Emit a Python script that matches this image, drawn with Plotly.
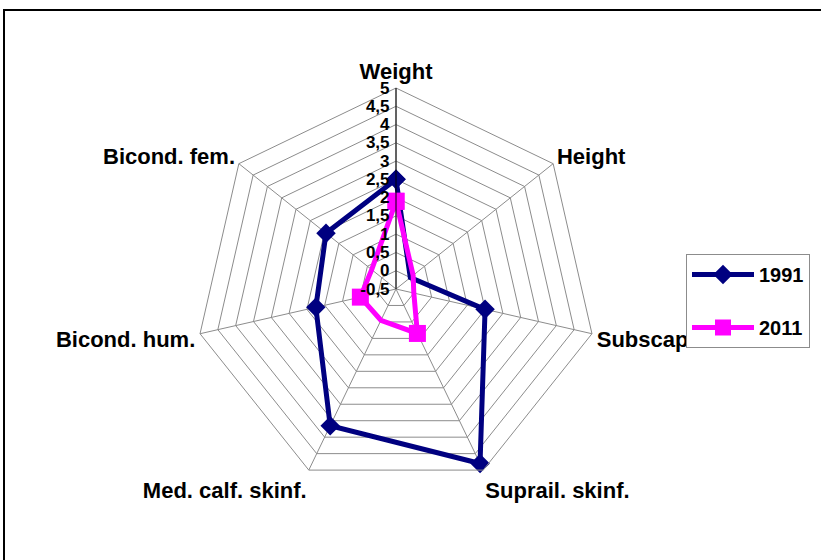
import plotly.graph_objects as go

categories = ["Weight", "Height", "Subscap. skinf.", "Suprail. skinf.",
              "Med. calf. skinf.", "Bicond. hum.", "Bicond. fem."]
values_1991 = [2.5, 0.0, 2.0, 4.8, 3.65, 1.75, 1.95]
values_2011 = [1.9, 0.1, 0.0, 0.85, 0.45, 0.5, 0.35]
tick_vals = [-0.5, 0, 0.5, 1, 1.5, 2, 2.5, 3, 3.5, 4, 4.5, 5]
tick_text = ["-0,5", "0", "0,5", "1", "1,5", "2", "2,5", "3", "3,5", "4", "4,5", "5"]

W, H = 821, 560
cx, cy, R = 396, 289, 201

fig = go.Figure()
fig.add_trace(go.Scatterpolar(
    r=values_1991 + values_1991[:1], theta=categories + categories[:1],
    mode="lines+markers", name="1991", legendgroup="a",
    line=dict(color="#000080", width=5),
    marker=dict(symbol="diamond", size=15, color="#000080"),
))
fig.add_trace(go.Scatterpolar(
    r=values_2011 + values_2011[:1], theta=categories + categories[:1],
    mode="lines+markers", name="2011", legendgroup="b",
    line=dict(color="#FF00FF", width=5),
    marker=dict(symbol="square", size=17, color="#FF00FF"),
))

fig.update_layout(
    width=W, height=H,
    margin=dict(l=0, r=0, t=0, b=0),
    paper_bgcolor="white", plot_bgcolor="white",
    font=dict(family="Liberation Sans, Arial, sans-serif", color="black"),
    polar=dict(
        domain=dict(x=[(cx - R) / W, (cx + R) / W], y=[1 - (cy + R) / H, 1 - (cy - R) / H]),
        bgcolor="white",
        gridshape="linear",
        radialaxis=dict(
            range=[-0.5, 5], tickvals=tick_vals, ticktext=tick_text,
            angle=90, tickangle=90, showline=True, linecolor="black", linewidth=1,
            gridcolor="#8c8c8c", gridwidth=1, ticks="",
            tickfont=dict(size=17, family="Liberation Sans, Arial, sans-serif", weight="bold"),
            side="counterclockwise",
        ),
        angularaxis=dict(
            rotation=90, direction="clockwise",
            linecolor="#8c8c8c", gridcolor="#8c8c8c", linewidth=1, ticks="",
            tickfont=dict(size=22, family="Liberation Sans, Arial, sans-serif", weight="bold"),
        ),
    ),
    legend=dict(
        x=686 / W, y=1 - 254 / H, xanchor="left", yanchor="top",
        bgcolor="white", bordercolor="#8c8c8c", borderwidth=1,
        font=dict(size=20, family="Liberation Sans, Arial, sans-serif", weight="bold"),
        traceorder="grouped", tracegroupgap=24, itemwidth=62,
    ),
    shapes=[dict(type="rect", xref="paper", yref="paper",
                 x0=4 / W, x1=1.05, y0=-0.05, y1=1 - 10 / H,
                 line=dict(color="black", width=2))],
)

# move radial tick labels away from the axis line, if supported
try:
    fig.update_layout(polar_radialaxis_ticklabelstandoff=14)
except (ValueError, AttributeError):
    pass

fig.write_html("out.html", config={"displayModeBar": False},
               post_script="document.body.style.margin='0';")
